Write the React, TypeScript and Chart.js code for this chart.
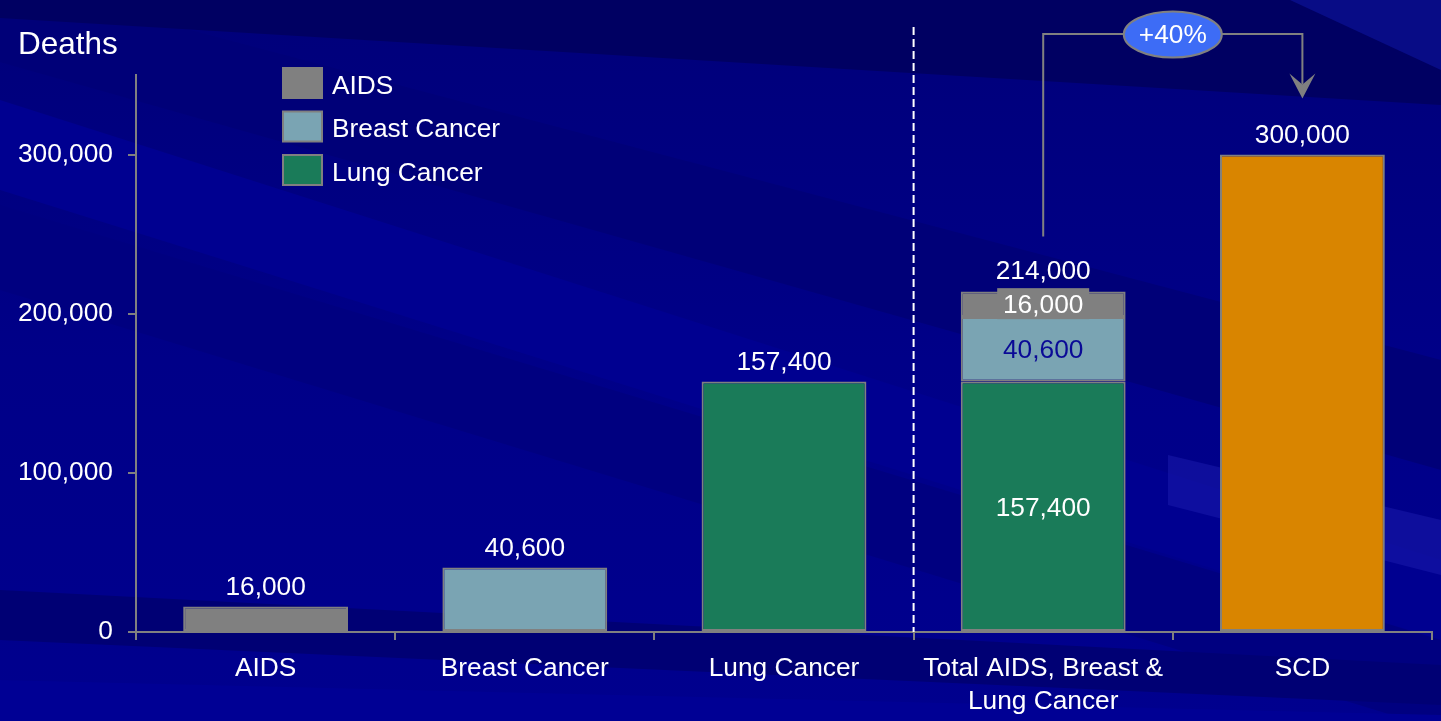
import React, { useEffect, useRef } from 'react';
import { Chart, registerables } from 'chart.js';

Chart.register(...registerables);

// ---- Data ----
const categories: (string | string[])[] = [
  'AIDS',
  'Breast Cancer',
  'Lung Cancer',
  ['Total AIDS, Breast &', 'Lung Cancer'],
  'SCD',
];
const aidsDeaths = [16000, null, null, 16000, null];
const breastCancerDeaths = [null, 40600, null, 40600, null];
const lungCancerDeaths = [null, null, 157400, 157400, null];
const scdDeaths = [null, null, null, null, 300000];
const yTickValues = [0, 100000, 200000, 300000];
const yAxisMax = 350000;
const legendLabels = ['AIDS', 'Breast Cancer', 'Lung Cancer'];
const yAxisTitle = 'Deaths';
const increaseLabel = '+40%';
const totalIndex = 3;
const scdIndex = 4;

// ---- Styles ----
const FONT = '"Liberation Sans", Arial, Helvetica, sans-serif';
const FONT_SIZE = 26.3;
const GRAY = '#808080';
const COLORS: Record<string, string> = {
  AIDS: '#808080',
  'Breast Cancer': '#7aa4b3',
  'Lung Cancer': '#1a7b59',
  SCD: '#d98500',
};

const fmt = (v: number) => v.toLocaleString('en-US');

// Background stripes of the slide (left-edge y range, right-edge y range, colour)
const stripes: { l: [number, number]; r: [number, number]; c: string }[] = [
  { l: [-20, 62], r: [360, 470], c: '#000078' },
  { l: [-300, 18], r: [-300, 105], c: '#000062' },
  { l: [100, 190], r: [560, 640], c: '#000090' },
  { l: [205, 290], r: [640, 730], c: '#000080' },
  { l: [590, 640], r: [665, 705], c: '#000074' },
  { l: [680, 760], r: [715, 800], c: '#000094' },
];

const backgroundPlugin = {
  id: 'slideBackground',
  beforeDraw(chart: any) {
    const { ctx, width, height } = chart;
    ctx.save();
    const g = ctx.createLinearGradient(0, 0, 0, height);
    g.addColorStop(0, '#00007a');
    g.addColorStop(0.5, '#000088');
    g.addColorStop(1, '#00008e');
    ctx.fillStyle = g;
    ctx.fillRect(0, 0, width, height);
    stripes.forEach((s) => {
      ctx.fillStyle = s.c;
      ctx.beginPath();
      ctx.moveTo(0, s.l[0]);
      ctx.lineTo(width, s.r[0]);
      ctx.lineTo(width, s.r[1]);
      ctx.lineTo(0, s.l[1]);
      ctx.closePath();
      ctx.fill();
    });
    // lighter streak low on the right
    ctx.fillStyle = 'rgba(40, 40, 190, 0.35)';
    ctx.beginPath();
    ctx.moveTo(1168, 455);
    ctx.lineTo(width, 520);
    ctx.lineTo(width, 575);
    ctx.lineTo(1168, 505);
    ctx.closePath();
    ctx.fill();
    // brighter top-right corner
    ctx.fillStyle = 'rgba(20, 30, 190, 0.4)';
    ctx.beginPath();
    ctx.moveTo(1290, 0);
    ctx.lineTo(width, 0);
    ctx.lineTo(width, 70);
    ctx.closePath();
    ctx.fill();
    ctx.restore();
  },
};

const annotationPlugin = {
  id: 'slideAnnotations',
  afterDatasetsDraw(chart: any) {
    const { ctx, chartArea } = chart;
    const xScale = chart.scales.x;
    const yScale = chart.scales.y;
    ctx.save();

    // Divider between single causes and the combined bar
    const divX = (xScale.getPixelForTick(2) + xScale.getPixelForTick(3)) / 2;
    ctx.strokeStyle = '#ffffff';
    ctx.lineWidth = 2;
    ctx.setLineDash([8, 4]);
    ctx.beginPath();
    ctx.moveTo(divX, 27);
    ctx.lineTo(divX, chartArea.bottom);
    ctx.stroke();
    ctx.setLineDash([]);

    // Value labels
    ctx.font = `${FONT_SIZE}px ${FONT}`;
    ctx.textAlign = 'center';
    ctx.textBaseline = 'middle';
    let total = 0;
    chart.data.datasets.forEach((ds: any, di: number) => {
      const meta = chart.getDatasetMeta(di);
      ds.data.forEach((v: number | null, i: number) => {
        if (v == null) return;
        const bar = meta.data[i];
        if (i === totalIndex) {
          total += v;
          const cy = (bar.y + bar.base) / 2;
          if (ds.label === 'AIDS') {
            ctx.fillStyle = COLORS.AIDS;
            ctx.fillRect(bar.x - 46, cy - 16, 92, 31);
          }
          ctx.fillStyle = ds.label === 'Breast Cancer' ? '#0a0a96' : '#ffffff';
          ctx.fillText(fmt(v), bar.x, cy + 2);
        } else {
          ctx.fillStyle = '#ffffff';
          ctx.fillText(fmt(v), bar.x, bar.y - 19);
        }
      });
    });
    const totalX = xScale.getPixelForTick(totalIndex);
    const totalTop = yScale.getPixelForValue(total);
    ctx.fillStyle = '#ffffff';
    ctx.fillText(fmt(total), totalX, totalTop - 20);

    // Bracket arrow from the combined total to SCD
    const scdX = xScale.getPixelForTick(scdIndex);
    const scdTop = yScale.getPixelForValue(scdDeaths[scdIndex] as number);
    const bracketY = yScale.getPixelForValue(yAxisMax) - 41;
    const tipY = scdTop - 56;
    ctx.strokeStyle = GRAY;
    ctx.lineWidth = 2;
    ctx.beginPath();
    ctx.moveTo(totalX, totalTop - 55);
    ctx.lineTo(totalX, bracketY);
    ctx.lineTo(scdX, bracketY);
    ctx.lineTo(scdX, tipY - 14);
    ctx.stroke();
    ctx.fillStyle = GRAY;
    ctx.beginPath();
    ctx.moveTo(scdX, tipY);
    ctx.lineTo(scdX - 13, tipY - 25);
    ctx.lineTo(scdX, tipY - 14);
    ctx.lineTo(scdX + 13, tipY - 25);
    ctx.closePath();
    ctx.fill();

    const cx = (totalX + scdX) / 2;
    ctx.beginPath();
    ctx.ellipse(cx, bracketY + 0.5, 49, 23, 0, 0, Math.PI * 2);
    ctx.fillStyle = '#3d6cf6';
    ctx.fill();
    ctx.strokeStyle = GRAY;
    ctx.stroke();
    ctx.fillStyle = '#ffffff';
    ctx.fillText(increaseLabel, cx, bracketY + 2);

    // Legend
    const lx = chartArea.left + 147;
    legendLabels.forEach((label, i) => {
      const top = 68 + i * 43.5;
      ctx.fillStyle = COLORS[label];
      ctx.fillRect(lx, top, 39, 30);
      ctx.strokeStyle = GRAY;
      ctx.lineWidth = 2;
      ctx.strokeRect(lx, top, 39, 30);
      ctx.fillStyle = '#ffffff';
      ctx.textAlign = 'left';
      ctx.fillText(label, lx + 49, top + 18.5);
    });

    // Axis title
    ctx.font = `31.5px ${FONT}`;
    ctx.textAlign = 'left';
    ctx.textBaseline = 'alphabetic';
    ctx.fillText(yAxisTitle, 18, 54);

    ctx.restore();
  },
};

export default function App() {
  const canvasRef = useRef<HTMLCanvasElement | null>(null);

  useEffect(() => {
    document.body.style.margin = '0';
    const canvas = canvasRef.current;
    if (!canvas) return;

    const mk = (label: string, data: (number | null)[]) => ({
      label,
      data,
      backgroundColor: COLORS[label],
      borderColor: GRAY,
      borderWidth: 2,
      borderSkipped: false as const,
    });

    const chart = new Chart(canvas, {
      type: 'bar',
      data: {
        labels: categories,
        datasets: [
          mk('Lung Cancer', lungCancerDeaths),
          mk('Breast Cancer', breastCancerDeaths),
          mk('AIDS', aidsDeaths),
          mk('SCD', scdDeaths),
        ],
      },
      options: {
        responsive: false,
        animation: false,
        devicePixelRatio: 1,
        events: [],
        layout: { padding: { top: 75, right: 9, left: 0, bottom: 0 } },
        datasets: {
          bar: { categoryPercentage: 1, barPercentage: 0.636 },
        },
        plugins: {
          legend: { display: false },
          tooltip: { enabled: false },
        },
        scales: {
          x: {
            stacked: true,
            offset: true,
            grid: {
              display: true,
              offset: true,
              drawOnChartArea: false,
              drawTicks: true,
              tickLength: 8,
              color: GRAY,
              lineWidth: 2,
            },
            border: { display: true, color: GRAY, width: 2 },
            ticks: {
              color: '#ffffff',
              font: { family: FONT, size: FONT_SIZE, lineHeight: 1.25 },
              padding: 12,
              maxRotation: 0,
              autoSkip: false,
            },
            afterFit: (s: any) => {
              s.height = 89;
            },
          },
          y: {
            stacked: true,
            min: 0,
            max: yAxisMax,
            afterBuildTicks: (s: any) => {
              s.ticks = yTickValues.map((value) => ({ value }));
            },
            grid: {
              display: true,
              drawOnChartArea: false,
              drawTicks: true,
              tickLength: 8,
              color: GRAY,
              lineWidth: 2,
            },
            border: { display: true, color: GRAY, width: 2 },
            ticks: {
              color: '#ffffff',
              font: { family: FONT, size: FONT_SIZE },
              padding: 15,
              callback: (v: any) => fmt(Number(v)),
            },
            afterFit: (s: any) => {
              s.width = 136;
            },
          },
        },
      },
      plugins: [backgroundPlugin, annotationPlugin],
    });

    return () => chart.destroy();
  }, []);

  return (
    <div style={{ position: 'fixed', left: 0, top: 0, width: 1441, height: 721 }}>
      <canvas ref={canvasRef} width={1441} height={721} style={{ display: 'block' }} />
    </div>
  );
}
